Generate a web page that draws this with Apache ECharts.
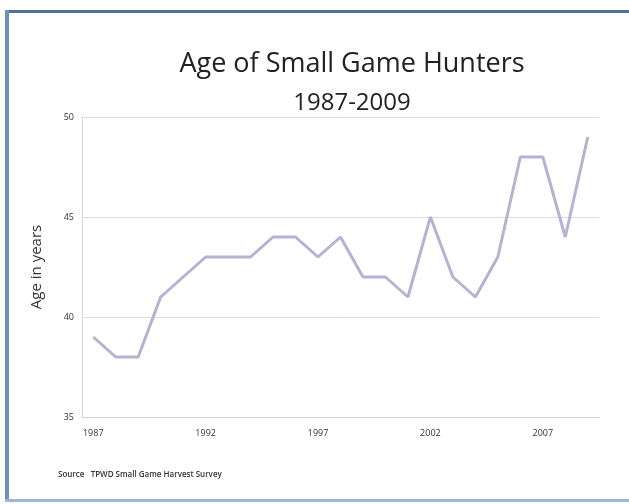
<!DOCTYPE html>
<html>
<head>
<meta charset="utf-8">
<script src="https://cdn.jsdelivr.net/npm/echarts@6/dist/echarts.min.js"></script>
<style>
  html, body { margin: 0; padding: 0; background: #ffffff; }
  #chart { position: absolute; left: 0; top: 0; width: 629px; height: 504px; }
  .frame-top { position: absolute; left: 6px; top: 10px; width: 623px; height: 3px; background: #4f6f9c; }
  .frame-left { position: absolute; left: 5px; top: 10px; width: 4px; height: 492px; background: #6f90bf; }
  .frame-bottom { position: absolute; left: 5px; top: 499px; width: 624px; height: 3px; background: #9fb6d6; }
</style>
</head>
<body>
<div id="chart"></div>
<div class="frame-top"></div>
<div class="frame-left"></div>
<div class="frame-bottom"></div>
<script>
const years = ['1987','1988','1989','1990','1991','1992','1993','1994','1995','1996','1997','1998',
               '1999','2000','2001','2002','2003','2004','2005','2006','2007','2008','2009'];
const avgAge = [39, 38, 38, 41, 42, 43, 43, 43, 44, 44, 43, 44,
                42, 42, 41, 45, 42, 41, 43, 48, 48, 44, 49];
const yTicks = [35, 40, 45, 50];
const titleText = 'Age of Small Game Hunters';
const subtitleText = '1987-2009';
const yAxisName = 'Age in years';
const sourceText = 'Source   TPWD Small Game Harvest Survey';

const chart = echarts.init(document.getElementById('chart'), null, { renderer: 'canvas' });
chart.setOption({
  backgroundColor: '#ffffff',
  animation: false,
  title: [
    { text: titleText, left: 347, textAlign: 'center', top: 46,
      textStyle: { fontFamily: 'Open Sans', fontSize: 27, fontWeight: 'normal', color: '#222222' } },
    { text: subtitleText, left: 347, textAlign: 'center', top: 86,
      textStyle: { fontFamily: 'Open Sans', fontSize: 24, fontWeight: 'normal', color: '#222222' } },
    { text: sourceText, left: 53, top: 466,
      textStyle: { fontFamily: 'Open Sans', fontSize: 8, fontWeight: 600, color: '#333333' } }
  ],
  grid: { left: 82, right: 30, top: 117, bottom: 87 },
  xAxis: {
    type: 'category',
    data: years,
    boundaryGap: true,
    axisLine: { show: true, lineStyle: { color: '#d4d4d4', width: 1 } },
    axisTick: { show: false },
    axisLabel: { interval: 4, margin: 12, fontFamily: 'Open Sans', fontSize: 9, color: '#333333' },
    splitLine: { show: false }
  },
  yAxis: {
    type: 'value',
    min: yTicks[0],
    max: yTicks[yTicks.length - 1],
    interval: 5,
    name: yAxisName,
    nameLocation: 'middle',
    nameGap: 38,
    nameTextStyle: { fontFamily: 'Open Sans', fontSize: 15, color: '#333333' },
    axisLine: { show: true, lineStyle: { color: '#d4d4d4', width: 1 } },
    axisTick: { show: false },
    axisLabel: { margin: 8, fontFamily: 'Open Sans', fontSize: 9, color: '#333333' },
    splitLine: { show: true, lineStyle: { color: '#dcdcdc', width: 1 } }
  },
  series: [{
    type: 'line',
    data: avgAge,
    showSymbol: false,
    smooth: false,
    lineStyle: { color: '#b3b3d3', width: 3 },
    itemStyle: { color: '#b3b3d3' }
  }]
});
</script>
</body>
</html>
